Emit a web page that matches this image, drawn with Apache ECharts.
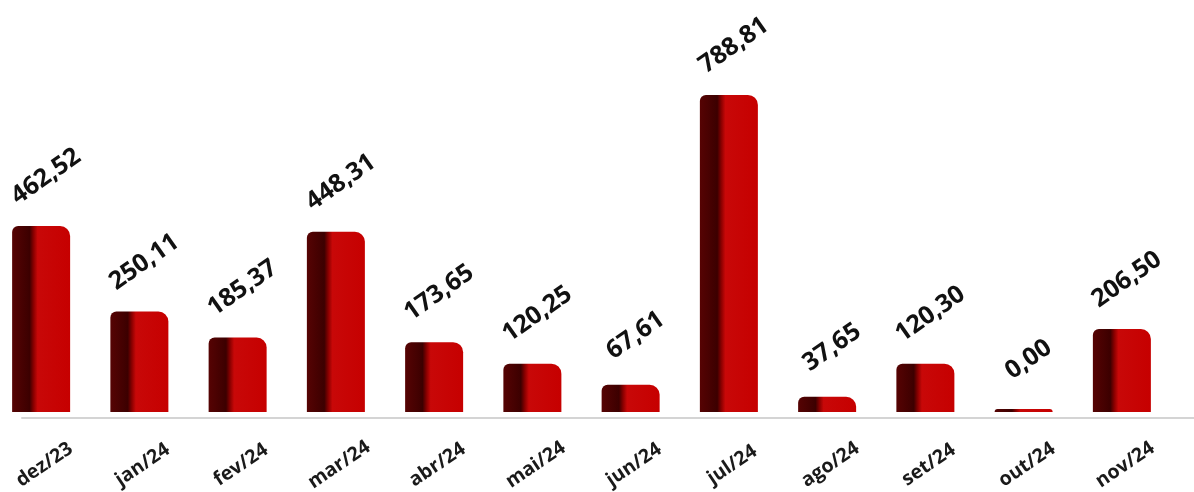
<!DOCTYPE html>
<html>
<head>
<meta charset="utf-8">
<script src="https://cdn.jsdelivr.net/npm/echarts@6/dist/echarts.min.js"></script>
<style>
html,body{margin:0;padding:0;background:#fff;overflow:hidden;}
#chart{width:1202px;height:492px;margin-left:-8px;}
</style>
</head>
<body>
<div id="chart"></div>
<script>
var categories = ['dez/23','jan/24','fev/24','mar/24','abr/24','mai/24','jun/24','jul/24','ago/24','set/24','out/24','nov/24'];
var values = [462.52, 250.11, 185.37, 448.31, 173.65, 120.25, 67.61, 788.81, 37.65, 120.30, 0.00, 206.50];

var chart = echarts.init(document.getElementById('chart'));
var barGrad = new echarts.graphic.LinearGradient(0, 0, 1, 0, [
  {offset: 0, color: '#560303'},
  {offset: 0.3, color: '#3c0000'},
  {offset: 0.37, color: '#8a0000'},
  {offset: 0.44, color: '#c80808'},
  {offset: 1, color: '#c60000'}
]);
chart.setOption({
  animation: false,
  backgroundColor: '#ffffff',
  grid: [
    {left: 0, right: 23, top: 10, bottom: 80, containLabel: false, outerBoundsMode: 'none'},
    {left: 30, right: 0, top: 10, bottom: 74, containLabel: false, outerBoundsMode: 'none'}
  ],
  xAxis: [
    {
      type: 'category', gridIndex: 0, data: categories,
      axisLine: {show: false}, axisTick: {show: false},
      axisLabel: {
        rotate: 34, align: 'center', verticalAlign: 'middle', margin: 55,
        padding: [0, 0, 0, 8],
        fontFamily: 'Open Sans', fontWeight: 'bold', fontSize: 19.5, color: '#1a1a1a',
        interval: 0
      }
    },
    {
      type: 'value', gridIndex: 1, min: 0, max: 1,
      axisLine: {show: true, lineStyle: {color: '#d4d4d4', width: 2}},
      axisTick: {show: false}, axisLabel: {show: false}, splitLine: {show: false}
    }
  ],
  yAxis: [
    {type: 'value', gridIndex: 0, min: 0, max: 1000, show: false},
    {type: 'value', gridIndex: 1, min: 0, max: 1, show: false}
  ],
  series: [{
    type: 'bar', xAxisIndex: 0, yAxisIndex: 0,
    data: values,
    barWidth: 58,
    barMinHeight: 3,
    itemStyle: {color: barGrad, borderRadius: [6, 10, 0, 0]},
    label: {
      show: true,
      position: 'top',
      distance: 46,
      offset: [6, 0],
      rotate: 35,
      align: 'center',
      verticalAlign: 'middle',
      fontFamily: 'Open Sans', fontWeight: 'bold', fontSize: 25, color: '#111',
      formatter: function (p) { return p.value.toFixed(2).replace('.', ','); }
    }
  }]
});
</script>
</body>
</html>
